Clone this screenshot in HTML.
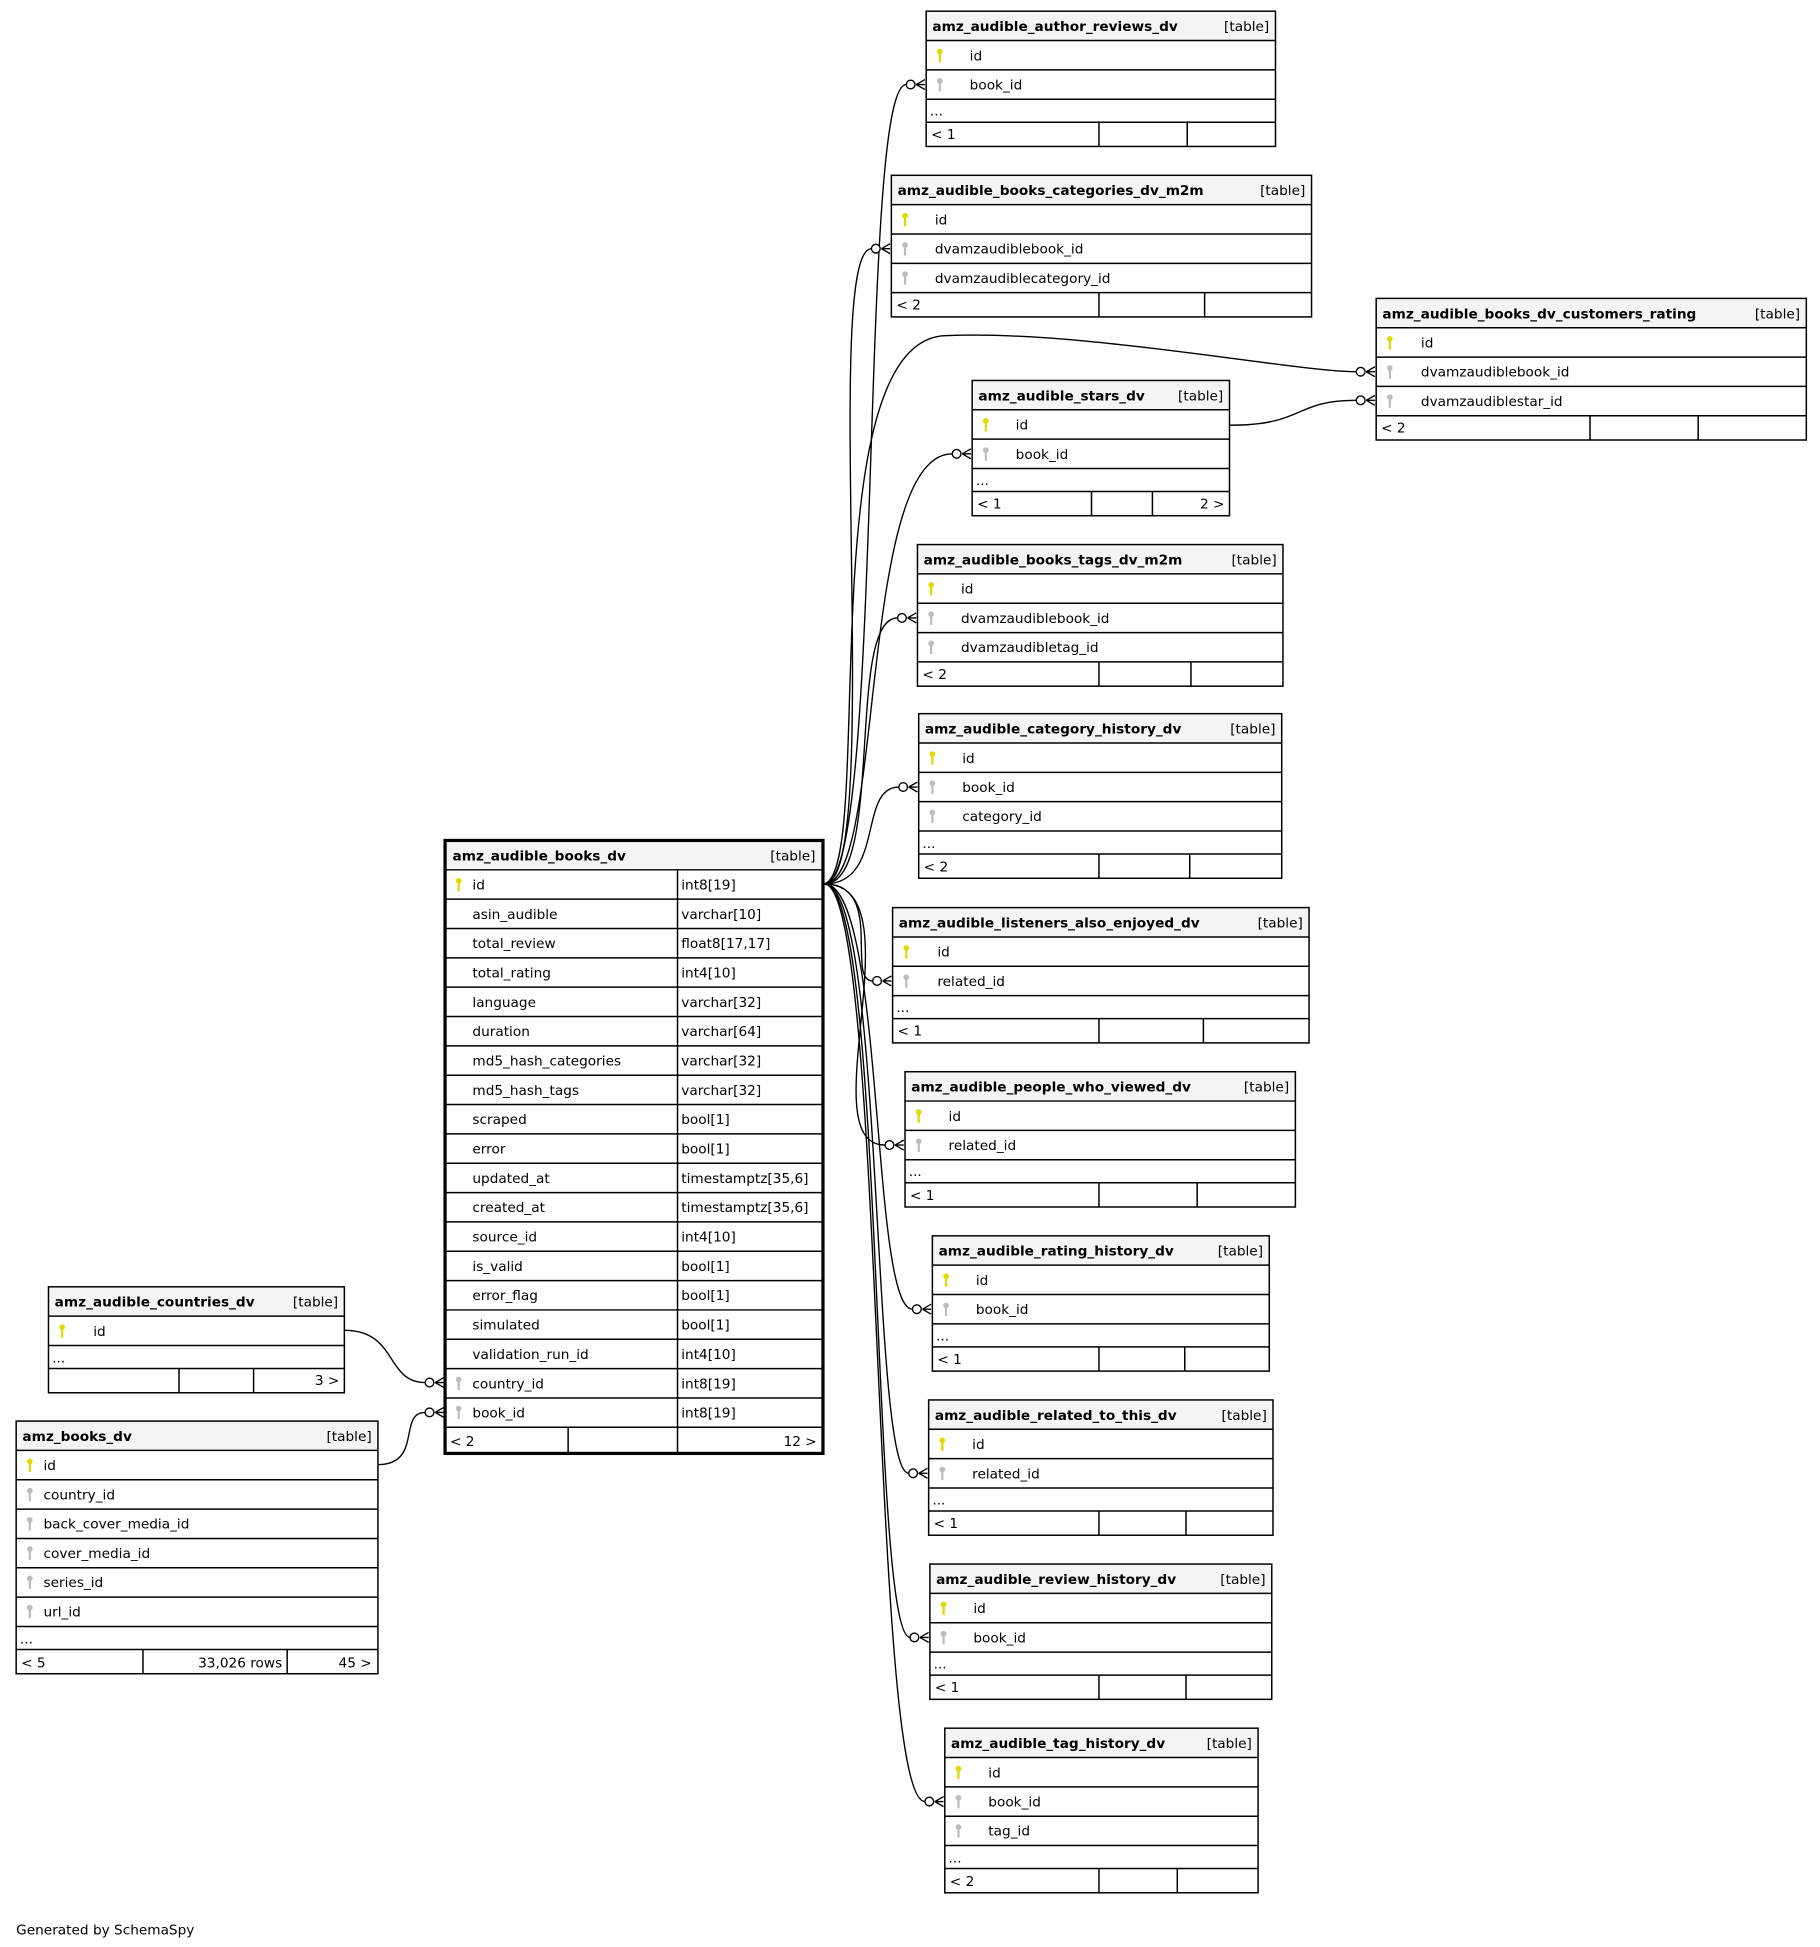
<!DOCTYPE html>
<html><head><meta charset="utf-8"><style>
html,body{margin:0;padding:0;background:#fff;}
svg{display:block;}
text{font-family:"DejaVu Sans","Liberation Sans",sans-serif;font-size:11px;fill:#000;}
.b{font-weight:bold;}
.r{text-anchor:end;}
.hd{fill:#f4f4f4;}
.ln{stroke:#000;stroke-width:1.2;fill:none;}
.c{stroke:#000;stroke-width:1.1;fill:none;}
.o{stroke:#000;stroke-width:1.1;fill:#fff;}
.pk{fill:#dcdc00;}
.fk{fill:#bdbdbd;}
</style></head><body>
<svg width="1820" height="1947" viewBox="0 0 1464 1566" preserveAspectRatio="none" xmlns="http://www.w3.org/2000/svg">
<defs>
<g id="key"><circle cx="0" cy="-2.5" r="2.3"/><rect x="-0.9" y="-1" width="1.8" height="7"/></g>
</defs>

<!-- connectors -->
<g class="c">
<path d="M663,711 C712,711 690,68 729,68"/>
<path d="M663,711 C712,711 660,200 701,200"/>
<path d="M663,711 C705,700 650,275 760,270 S1040,299 1091,299"/>
<path d="M989,342 C1050,342 1040,322 1091,322"/>
<path d="M663,711 C712,711 690,365 766,365"/>
<path d="M663,711 C712,711 680,497 722,497"/>
<path d="M663,711 C712,711 690,633 723,633"/>
<path d="M663,711 C712,711 680,789 702,789"/>
<path d="M663,711 C740,711 650,921 712,921"/>
<path d="M663,711 C712,711 700,1053 734,1053"/>
<path d="M663,711 C712,711 700,1185 731,1185"/>
<path d="M663,711 C712,711 700,1317 732,1317"/>
<path d="M663,711 C712,711 700,1449 744,1449"/>
<path d="M277,1070 C320,1070 310,1112 342,1112"/>
<path d="M304,1178 C340,1178 320,1136 342,1136"/>
</g>
<!-- end markers -->
<g>
<g transform="translate(745,68)"><path class="c" d="M-8,0 L-1,-4 M-8,0 L-1,0 M-8,0 L-1,4"/><circle class="o" cx="-12.5" cy="0" r="3.5"/></g>
<g transform="translate(717,200)"><path class="c" d="M-8,0 L-1,-4 M-8,0 L-1,0 M-8,0 L-1,4"/><circle class="o" cx="-12.5" cy="0" r="3.5"/></g>
<g transform="translate(1107,299)"><path class="c" d="M-8,0 L-1,-4 M-8,0 L-1,0 M-8,0 L-1,4"/><circle class="o" cx="-12.5" cy="0" r="3.5"/></g>
<g transform="translate(1107,322)"><path class="c" d="M-8,0 L-1,-4 M-8,0 L-1,0 M-8,0 L-1,4"/><circle class="o" cx="-12.5" cy="0" r="3.5"/></g>
<g transform="translate(782,365)"><path class="c" d="M-8,0 L-1,-4 M-8,0 L-1,0 M-8,0 L-1,4"/><circle class="o" cx="-12.5" cy="0" r="3.5"/></g>
<g transform="translate(738,497)"><path class="c" d="M-8,0 L-1,-4 M-8,0 L-1,0 M-8,0 L-1,4"/><circle class="o" cx="-12.5" cy="0" r="3.5"/></g>
<g transform="translate(739,633)"><path class="c" d="M-8,0 L-1,-4 M-8,0 L-1,0 M-8,0 L-1,4"/><circle class="o" cx="-12.5" cy="0" r="3.5"/></g>
<g transform="translate(718,789)"><path class="c" d="M-8,0 L-1,-4 M-8,0 L-1,0 M-8,0 L-1,4"/><circle class="o" cx="-12.5" cy="0" r="3.5"/></g>
<g transform="translate(728,921)"><path class="c" d="M-8,0 L-1,-4 M-8,0 L-1,0 M-8,0 L-1,4"/><circle class="o" cx="-12.5" cy="0" r="3.5"/></g>
<g transform="translate(750,1053)"><path class="c" d="M-8,0 L-1,-4 M-8,0 L-1,0 M-8,0 L-1,4"/><circle class="o" cx="-12.5" cy="0" r="3.5"/></g>
<g transform="translate(747,1185)"><path class="c" d="M-8,0 L-1,-4 M-8,0 L-1,0 M-8,0 L-1,4"/><circle class="o" cx="-12.5" cy="0" r="3.5"/></g>
<g transform="translate(748,1317)"><path class="c" d="M-8,0 L-1,-4 M-8,0 L-1,0 M-8,0 L-1,4"/><circle class="o" cx="-12.5" cy="0" r="3.5"/></g>
<g transform="translate(760,1449)"><path class="c" d="M-8,0 L-1,-4 M-8,0 L-1,0 M-8,0 L-1,4"/><circle class="o" cx="-12.5" cy="0" r="3.5"/></g>
<g transform="translate(358,1112)"><path class="c" d="M-8,0 L-1,-4 M-8,0 L-1,0 M-8,0 L-1,4"/><circle class="o" cx="-12.5" cy="0" r="3.5"/></g>
<g transform="translate(358,1136)"><path class="c" d="M-8,0 L-1,-4 M-8,0 L-1,0 M-8,0 L-1,4"/><circle class="o" cx="-12.5" cy="0" r="3.5"/></g>
</g>

<!-- T1 author reviews -->
<rect class="hd" x="745" y="9" width="281" height="23.6"/>
<rect class="ln" x="745" y="9" width="281" height="108.8"/>
<path class="ln" d="M745,32.6H1026M745,56.2H1026M745,79.8H1026M745,98.3H1026M884,98.3V117.8M955,98.3V117.8"/>
<text class="b" x="750" y="25">amz_audible_author_reviews_dv</text><text class="r" x="1021" y="25">[table]</text>
<use href="#key" class="pk" x="756" y="44"/><text x="780" y="48.5">id</text>
<use href="#key" class="fk" x="756" y="67.5"/><text x="780" y="72">book_id</text>
<text x="748" y="93">...</text><text x="749" y="112">&lt; 1</text>

<!-- T2 categories m2m -->
<rect class="hd" x="717" y="141" width="338" height="23.6"/>
<rect class="ln" x="717" y="141" width="338" height="113.9"/>
<path class="ln" d="M717,164.6H1055M717,188.2H1055M717,211.8H1055M717,235.4H1055M884,235.4V254.9M969,235.4V254.9"/>
<text class="b" x="722" y="157">amz_audible_books_categories_dv_m2m</text><text class="r" x="1050" y="157">[table]</text>
<use href="#key" class="pk" x="728" y="176"/><text x="752" y="180.5">id</text>
<use href="#key" class="fk" x="728" y="199.5"/><text x="752" y="204">dvamzaudiblebook_id</text>
<use href="#key" class="fk" x="728" y="223"/><text x="752" y="227.5">dvamzaudiblecategory_id</text>
<text x="721" y="249">&lt; 2</text>

<!-- T3 customers rating -->
<rect class="hd" x="1107" y="240" width="346" height="23.6"/>
<rect class="ln" x="1107" y="240" width="346" height="113.9"/>
<path class="ln" d="M1107,263.6H1453M1107,287.2H1453M1107,310.8H1453M1107,334.4H1453M1279,334.4V353.9M1366,334.4V353.9"/>
<text class="b" x="1112" y="256">amz_audible_books_dv_customers_rating</text><text class="r" x="1448" y="256">[table]</text>
<use href="#key" class="pk" x="1118" y="275"/><text x="1143" y="279.5">id</text>
<use href="#key" class="fk" x="1118" y="298.5"/><text x="1143" y="303">dvamzaudiblebook_id</text>
<use href="#key" class="fk" x="1118" y="322"/><text x="1143" y="326.5">dvamzaudiblestar_id</text>
<text x="1111" y="348">&lt; 2</text>

<!-- T4 stars -->
<rect class="hd" x="782" y="306" width="207" height="23.6"/>
<rect class="ln" x="782" y="306" width="207" height="108.8"/>
<path class="ln" d="M782,329.6H989M782,353.2H989M782,376.8H989M782,395.3H989M878,395.3V414.8M927,395.3V414.8"/>
<text class="b" x="787" y="322">amz_audible_stars_dv</text><text class="r" x="984" y="322">[table]</text>
<use href="#key" class="pk" x="793" y="341"/><text x="817" y="345.5">id</text>
<use href="#key" class="fk" x="793" y="364.5"/><text x="817" y="369">book_id</text>
<text x="785" y="390">...</text><text x="786" y="409">&lt; 1</text><text class="r" x="985" y="409">2 &gt;</text>

<!-- T5 tags m2m -->
<rect class="hd" x="738" y="438" width="294" height="23.6"/>
<rect class="ln" x="738" y="438" width="294" height="113.9"/>
<path class="ln" d="M738,461.6H1032M738,485.2H1032M738,508.8H1032M738,532.4H1032M884,532.4V551.9M958,532.4V551.9"/>
<text class="b" x="743" y="454">amz_audible_books_tags_dv_m2m</text><text class="r" x="1027" y="454">[table]</text>
<use href="#key" class="pk" x="749" y="473"/><text x="773" y="477.5">id</text>
<use href="#key" class="fk" x="749" y="496.5"/><text x="773" y="501">dvamzaudiblebook_id</text>
<use href="#key" class="fk" x="749" y="520"/><text x="773" y="524.5">dvamzaudibletag_id</text>
<text x="742" y="546">&lt; 2</text>

<!-- T6 category history -->
<rect class="hd" x="739" y="574" width="292" height="23.6"/>
<rect class="ln" x="739" y="574" width="292" height="132.4"/>
<path class="ln" d="M739,597.6H1031M739,621.2H1031M739,644.8H1031M739,668.4H1031M739,686.9H1031M884,686.9V706.4M957,686.9V706.4"/>
<text class="b" x="744" y="590">amz_audible_category_history_dv</text><text class="r" x="1026" y="590">[table]</text>
<use href="#key" class="pk" x="750" y="609"/><text x="774" y="613.5">id</text>
<use href="#key" class="fk" x="750" y="632.5"/><text x="774" y="637">book_id</text>
<use href="#key" class="fk" x="750" y="656"/><text x="774" y="660.5">category_id</text>
<text x="742" y="682">...</text><text x="743" y="701">&lt; 2</text>

<!-- T7 listeners -->
<rect class="hd" x="718" y="730" width="335" height="23.6"/>
<rect class="ln" x="718" y="730" width="335" height="108.8"/>
<path class="ln" d="M718,753.6H1053M718,777.2H1053M718,800.8H1053M718,819.3H1053M884,819.3V838.8M968,819.3V838.8"/>
<text class="b" x="723" y="746">amz_audible_listeners_also_enjoyed_dv</text><text class="r" x="1048" y="746">[table]</text>
<use href="#key" class="pk" x="729" y="765"/><text x="754" y="769.5">id</text>
<use href="#key" class="fk" x="729" y="788.5"/><text x="754" y="793">related_id</text>
<text x="721" y="814">...</text><text x="722" y="833">&lt; 1</text>

<!-- T8 people who viewed -->
<rect class="hd" x="728" y="862" width="314" height="23.6"/>
<rect class="ln" x="728" y="862" width="314" height="108.8"/>
<path class="ln" d="M728,885.6H1042M728,909.2H1042M728,932.8H1042M728,951.3H1042M884,951.3V970.8M963,951.3V970.8"/>
<text class="b" x="733" y="878">amz_audible_people_who_viewed_dv</text><text class="r" x="1037" y="878">[table]</text>
<use href="#key" class="pk" x="739" y="897"/><text x="763" y="901.5">id</text>
<use href="#key" class="fk" x="739" y="920.5"/><text x="763" y="925">related_id</text>
<text x="731" y="946">...</text><text x="732" y="965">&lt; 1</text>

<!-- T9 rating history -->
<rect class="hd" x="750" y="994" width="271" height="23.6"/>
<rect class="ln" x="750" y="994" width="271" height="108.8"/>
<path class="ln" d="M750,1017.6H1021M750,1041.2H1021M750,1064.8H1021M750,1083.3H1021M884,1083.3V1102.8M953,1083.3V1102.8"/>
<text class="b" x="755" y="1010">amz_audible_rating_history_dv</text><text class="r" x="1016" y="1010">[table]</text>
<use href="#key" class="pk" x="761" y="1029"/><text x="785" y="1033.5">id</text>
<use href="#key" class="fk" x="761" y="1052.5"/><text x="785" y="1057">book_id</text>
<text x="753" y="1078">...</text><text x="754" y="1097">&lt; 1</text>

<!-- T10 related to this -->
<rect class="hd" x="747" y="1126" width="277" height="23.6"/>
<rect class="ln" x="747" y="1126" width="277" height="108.8"/>
<path class="ln" d="M747,1149.6H1024M747,1173.2H1024M747,1196.8H1024M747,1215.3H1024M884,1215.3V1234.8M954,1215.3V1234.8"/>
<text class="b" x="752" y="1142">amz_audible_related_to_this_dv</text><text class="r" x="1019" y="1142">[table]</text>
<use href="#key" class="pk" x="758" y="1161"/><text x="782" y="1165.5">id</text>
<use href="#key" class="fk" x="758" y="1184.5"/><text x="782" y="1189">related_id</text>
<text x="750" y="1210">...</text><text x="751" y="1229">&lt; 1</text>

<!-- T11 review history -->
<rect class="hd" x="748" y="1258" width="275" height="23.6"/>
<rect class="ln" x="748" y="1258" width="275" height="108.8"/>
<path class="ln" d="M748,1281.6H1023M748,1305.2H1023M748,1328.8H1023M748,1347.3H1023M884,1347.3V1366.8M954,1347.3V1366.8"/>
<text class="b" x="753" y="1274">amz_audible_review_history_dv</text><text class="r" x="1018" y="1274">[table]</text>
<use href="#key" class="pk" x="759" y="1293"/><text x="783" y="1297.5">id</text>
<use href="#key" class="fk" x="759" y="1316.5"/><text x="783" y="1321">book_id</text>
<text x="751" y="1342">...</text><text x="752" y="1361">&lt; 1</text>

<!-- T12 tag history -->
<rect class="hd" x="760" y="1390" width="252" height="23.6"/>
<rect class="ln" x="760" y="1390" width="252" height="132.4"/>
<path class="ln" d="M760,1413.6H1012M760,1437.2H1012M760,1460.8H1012M760,1484.4H1012M760,1502.9H1012M884,1502.9V1522.4M947,1502.9V1522.4"/>
<text class="b" x="765" y="1406">amz_audible_tag_history_dv</text><text class="r" x="1007" y="1406">[table]</text>
<use href="#key" class="pk" x="771" y="1425"/><text x="795" y="1429.5">id</text>
<use href="#key" class="fk" x="771" y="1448.5"/><text x="795" y="1453">book_id</text>
<use href="#key" class="fk" x="771" y="1472"/><text x="795" y="1476.5">tag_id</text>
<text x="763" y="1498">...</text><text x="764" y="1517">&lt; 2</text>

<!-- T13 main -->
<rect class="hd" x="358" y="676" width="304" height="23.6"/>
<path class="ln" d="M358,699.6H662M358,723.2H662M358,746.8H662M358,770.4H662M358,794H662M358,817.6H662M358,841.2H662M358,864.8H662M358,888.4H662M358,912H662M358,935.6H662M358,959.2H662M358,982.8H662M358,1006.4H662M358,1030H662M358,1053.6H662M358,1077.2H662M358,1100.8H662M358,1124.4H662M358,1148H662M545,699.6V1148M457,1148V1169M545,1148V1169"/>
<rect x="358" y="676" width="304" height="493" fill="none" stroke="#000" stroke-width="2.6"/>
<text class="b" x="364" y="692">amz_audible_books_dv</text><text class="r" x="656" y="692">[table]</text>
<use href="#key" class="pk" x="369" y="711"/><text x="380" y="715.5">id</text><text x="548" y="715.5">int8[19]</text>
<text x="380" y="739">asin_audible</text><text x="548" y="739">varchar[10]</text>
<text x="380" y="762.6">total_review</text><text x="548" y="762.6">float8[17,17]</text>
<text x="380" y="786.2">total_rating</text><text x="548" y="786.2">int4[10]</text>
<text x="380" y="809.8">language</text><text x="548" y="809.8">varchar[32]</text>
<text x="380" y="833.4">duration</text><text x="548" y="833.4">varchar[64]</text>
<text x="380" y="857">md5_hash_categories</text><text x="548" y="857">varchar[32]</text>
<text x="380" y="880.6">md5_hash_tags</text><text x="548" y="880.6">varchar[32]</text>
<text x="380" y="904.2">scraped</text><text x="548" y="904.2">bool[1]</text>
<text x="380" y="927.8">error</text><text x="548" y="927.8">bool[1]</text>
<text x="380" y="951.4">updated_at</text><text x="548" y="951.4">timestamptz[35,6]</text>
<text x="380" y="975">created_at</text><text x="548" y="975">timestamptz[35,6]</text>
<text x="380" y="998.6">source_id</text><text x="548" y="998.6">int4[10]</text>
<text x="380" y="1022.2">is_valid</text><text x="548" y="1022.2">bool[1]</text>
<text x="380" y="1045.8">error_flag</text><text x="548" y="1045.8">bool[1]</text>
<text x="380" y="1069.4">simulated</text><text x="548" y="1069.4">bool[1]</text>
<text x="380" y="1093">validation_run_id</text><text x="548" y="1093">int4[10]</text>
<use href="#key" class="fk" x="369" y="1112"/><text x="380" y="1116.6">country_id</text><text x="548" y="1116.6">int8[19]</text>
<use href="#key" class="fk" x="369" y="1135.5"/><text x="380" y="1140.2">book_id</text><text x="548" y="1140.2">int8[19]</text>
<text x="362" y="1163">&lt; 2</text><text class="r" x="657" y="1163">12 &gt;</text>

<!-- T14 countries -->
<rect class="hd" x="39" y="1035" width="238" height="23.6"/>
<rect class="ln" x="39" y="1035" width="238" height="85.2"/>
<path class="ln" d="M39,1058.6H277M39,1082.2H277M39,1100.7H277M144,1100.7V1120.2M204,1100.7V1120.2"/>
<text class="b" x="44" y="1051">amz_audible_countries_dv</text><text class="r" x="272" y="1051">[table]</text>
<use href="#key" class="pk" x="50" y="1070"/><text x="75" y="1074.5">id</text>
<text x="42" y="1096">...</text><text class="r" x="273" y="1114">3 &gt;</text>

<!-- T15 amz_books_dv -->
<rect class="hd" x="13" y="1143" width="291" height="23.6"/>
<rect class="ln" x="13" y="1143" width="291" height="203.2"/>
<path class="ln" d="M13,1166.6H304M13,1190.2H304M13,1213.8H304M13,1237.4H304M13,1261H304M13,1284.6H304M13,1308.2H304M13,1326.7H304M115,1326.7V1346.2M231,1326.7V1346.2"/>
<text class="b" x="18" y="1159">amz_books_dv</text><text class="r" x="299" y="1159">[table]</text>
<use href="#key" class="pk" x="24" y="1178"/><text x="35" y="1182.5">id</text>
<use href="#key" class="fk" x="24" y="1201.5"/><text x="35" y="1206">country_id</text>
<use href="#key" class="fk" x="24" y="1225"/><text x="35" y="1229.5">back_cover_media_id</text>
<use href="#key" class="fk" x="24" y="1248.5"/><text x="35" y="1253">cover_media_id</text>
<use href="#key" class="fk" x="24" y="1272"/><text x="35" y="1276.5">series_id</text>
<use href="#key" class="fk" x="24" y="1295.5"/><text x="35" y="1300">url_id</text>
<text x="16" y="1322">...</text>
<text x="17" y="1341">&lt; 5</text><text class="r" x="227" y="1341">33,026 rows</text><text class="r" x="299" y="1341">45 &gt;</text>

<text x="13" y="1556">Generated by SchemaSpy</text>
</svg>
</body></html>
